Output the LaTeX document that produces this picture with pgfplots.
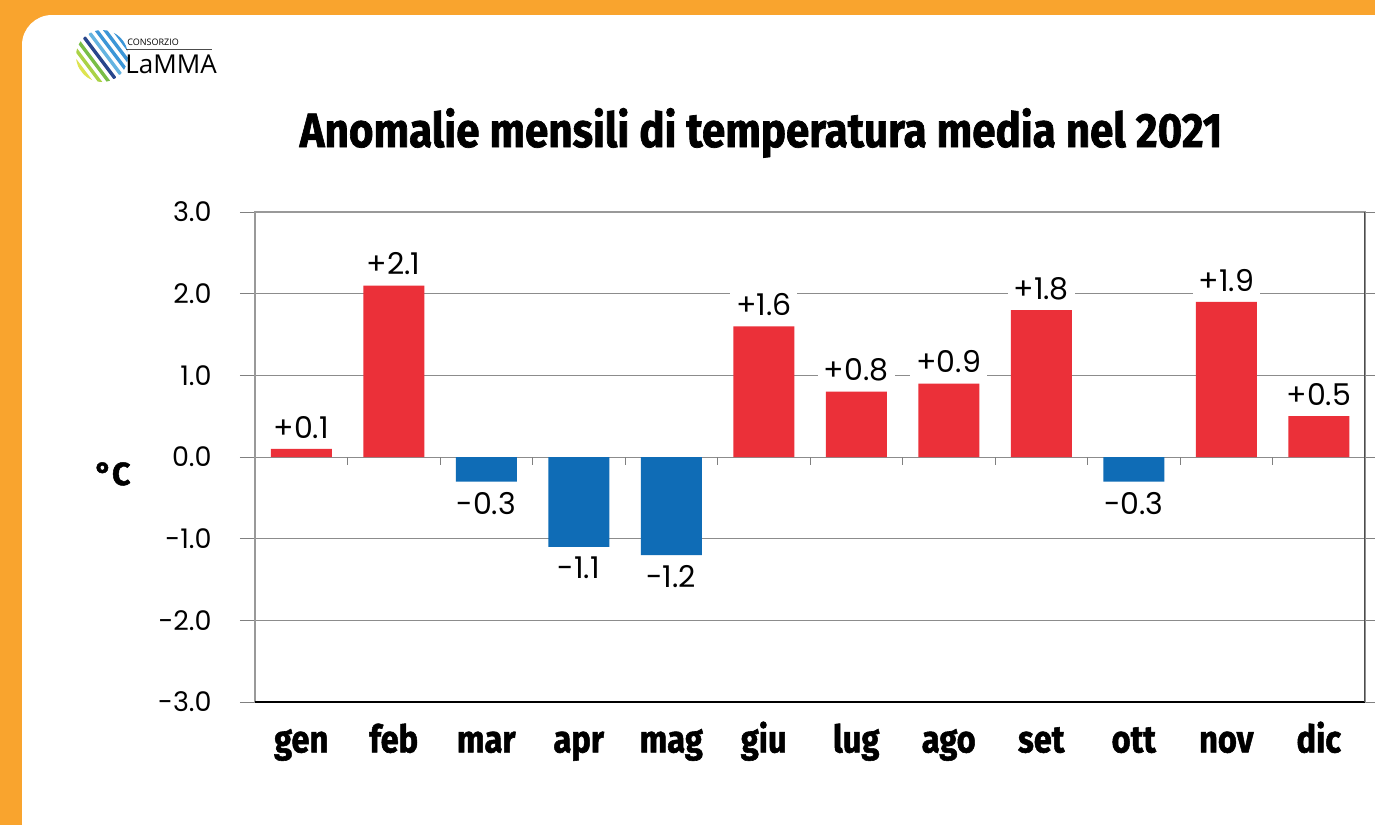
\documentclass[border=0pt]{standalone}
\usepackage{pgfplots}
\pgfplotsset{compat=1.18}
\usepackage{fontspec}
\setmainfont{Poppins}
\newfontfamily\heavyfam{Fira Sans}[BoldFeatures={FakeBold=1.5}]
\newcommand\heavy{\heavyfam\bfseries}
\newfontfamily\logofont{Open Sans}
\definecolor{orangebg}{RGB}{249,164,46}
\definecolor{barred}{RGB}{235,48,57}
\definecolor{barblue}{RGB}{15,108,182}
\definecolor{lg1}{RGB}{222,228,80}
\definecolor{lg2}{RGB}{170,210,70}
\definecolor{lg3}{RGB}{120,190,70}
\definecolor{lg4}{RGB}{40,70,140}
\definecolor{lg5}{RGB}{100,180,225}
\definecolor{lg6}{RGB}{60,150,215}
\pgfplotstableread{
x y
0 0.1
1 2.1
5 1.6
6 0.8
7 0.9
8 1.8
10 1.9
11 0.5
}\pos
\pgfplotstableread{
x y
2 -0.3
3 -1.1
4 -1.2
9 -0.3
}\neg
\begin{document}
\begin{tikzpicture}
\path[use as bounding box] (0,0) rectangle (687.5pt,-412.5pt);
\clip (0,0) rectangle (687.5pt,-412.5pt);
\fill[orangebg] (0,0) rectangle (687.5pt,-412.5pt);
\begin{scope}[x=0.5pt,y=-0.5pt]
\fill[white, rounded corners=15pt] (22,15) rectangle (1450,900);
% logo
\begin{scope}
\clip (102,56) circle (26);
\foreach \k/\c in {-24/lg1,-17/lg2,-10/lg3,-3/lg4,4/lg5,11/lg6,18/lg6,25/lg6}{
  \draw[\c, line width=1.7pt, line cap=round] ({102+0.8*\k-15},{56-0.6*\k-20}) -- ({102+0.8*\k+15},{56-0.6*\k+20});
}
\end{scope}
\node[anchor=base west, inner sep=0pt, font=\logofont\fontsize{4.5}{5}\selectfont] at (127,45) {CONSORZIO};
\draw[black!70, line width=0.4pt] (126,49) -- (212,49);
\node[anchor=base west, inner sep=0pt, font=\logofont\fontsize{13}{13}\selectfont] at (125,73) {LaMMA};
% title
\node[anchor=base, inner sep=0pt, xscale=0.878, font=\heavy\fontsize{24}{24}\selectfont] at (761,147) {Anomalie mensili di temperatura media nel 2021};
\begin{scope}
\clip (80,440) rectangle (130,500);
\node[anchor=base west, inner sep=0pt, font=\heavy\fontsize{16}{16}\selectfont] at (95,485) {°C};
\end{scope}
\end{scope}
\begin{axis}[
  at={(127.5pt,-351pt)}, anchor=south west, scale only axis,
  width=555pt, height=245pt,
  ymin=-3, ymax=3, ytick={-3,-2,...,3},
  xmin=-0.5, xmax=11.5, xtick={0,...,11},
  xticklabels={gen,feb,mar,apr,mag,giu,lug,ago,set,ott,nov,dic},
  x tick label style={font=\heavy\fontsize{19}{19}\selectfont, xscale=0.86, anchor=north, inner sep=0pt, text height=14pt, text depth=4pt, yshift=-3.5pt},
  major x tick style={draw=none},
  tick align=outside, major tick length=7.5pt,
  y tick style={gray, line width=0.5pt},
  yticklabel={\pgfmathprintnumber[fixed,fixed zerofill,precision=1,assume math mode=true]{\tick}},
  y tick label style={font=\fontsize{13.5}{13.5}\selectfont, anchor=east, inner sep=0pt, xshift=-14pt},
  ymajorgrids, grid style={gray!90, line width=0.5pt},
  axis line style={gray!80, line width=0.6pt},
  ybar, bar width=30.5pt,
  nodes near coords={\pgfmathprintnumber[fixed,fixed zerofill,precision=1,showpos,assume math mode=true]{\pgfplotspointmeta}},
  every node near coord/.append style={font=\fontsize{15}{15}\selectfont, fill=white, text=black, inner sep=3pt},
]
\addplot[fill=barred, draw=none, bar shift=0pt, every node near coord/.append style={yshift=2pt}] table[x=x,y=y] {\pos};
\addplot[fill=barblue, draw=none, bar shift=0pt, every node near coord/.append style={yshift=-2pt}] table[x=x,y=y] {\neg};
\draw[black, line width=0.8pt] (rel axis cs:0,0) -- (rel axis cs:1,0);
\draw[black!70, line width=0.8pt] (rel axis cs:1,0) -- (rel axis cs:1,1);
\pgfplotsinvokeforeach{0.5,1.5,...,10.5}{\draw[gray, line width=0.5pt] (axis cs:#1,0) -- ([yshift=-4pt]axis cs:#1,0);}
\end{axis}
\end{tikzpicture}
\end{document}
